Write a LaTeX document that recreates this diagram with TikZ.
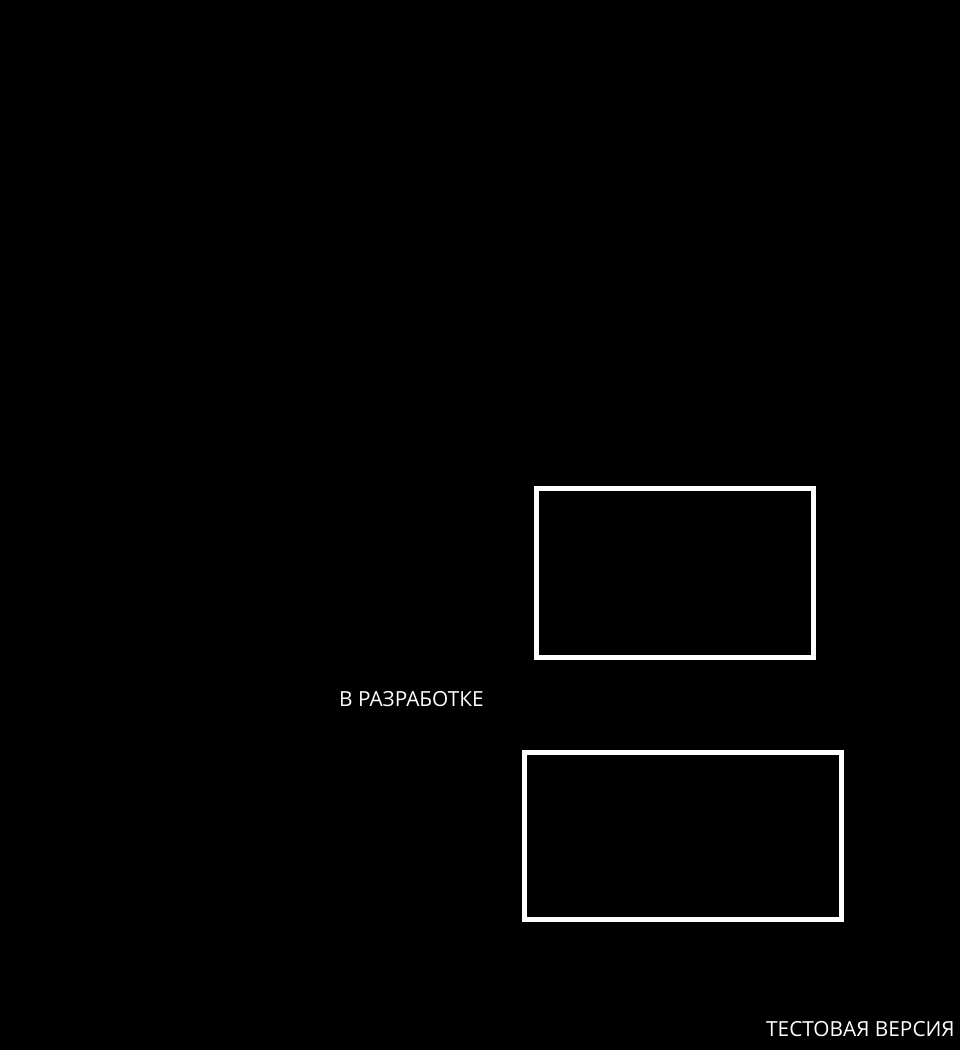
\documentclass[tikz,border=0pt]{standalone}
\usepackage{fontspec}
\setmainfont{Open Sans}
\begin{document}
\begin{tikzpicture}[x=1pt,y=-1pt,
  box/.style={draw=white,line width=5pt},
  lbl/.style={text=white,inner sep=0pt,anchor=base west,font=\fontsize{20.8}{24}\selectfont}]
\useasboundingbox[fill=black] (0,0) rectangle (960,1050);
\draw[box] (536.5,488.5) rectangle (813.5,657.5);
\draw[box] (524.5,752.5) rectangle (841.5,919.5);
\node[lbl] (dev) at (339,706) {В РАЗРАБОТКЕ};
\node[lbl] (test) at (766,1036) {ТЕСТОВАЯ ВЕРСИЯ};
\end{tikzpicture}
\end{document}
